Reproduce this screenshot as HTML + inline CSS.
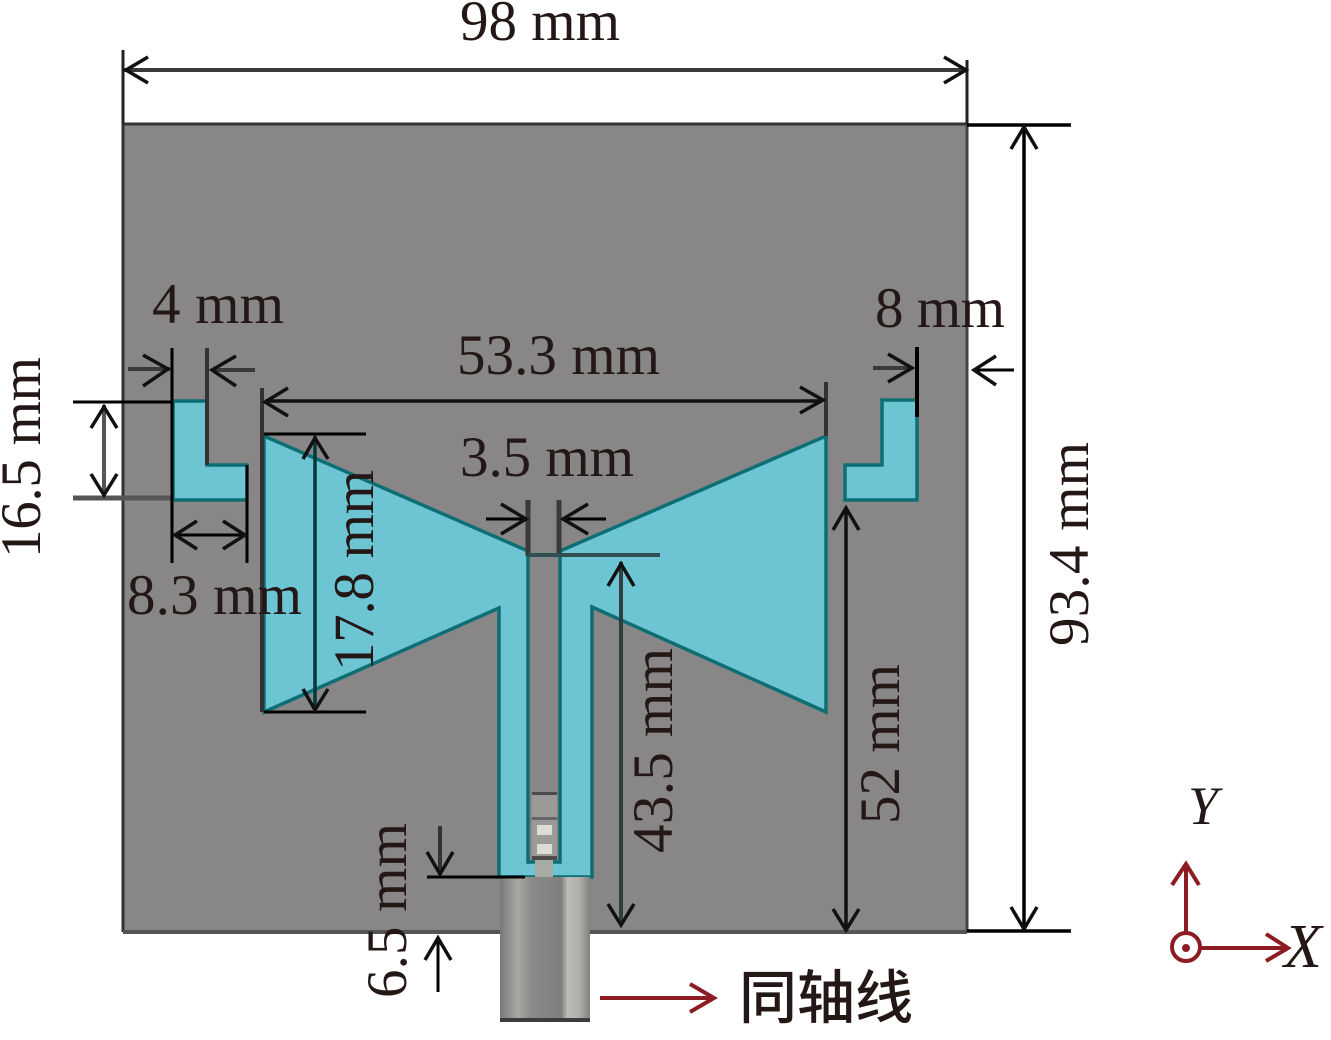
<!DOCTYPE html>
<html>
<head>
<meta charset="utf-8">
<style>
html,body{margin:0;padding:0;background:#fff;width:1331px;height:1040px;overflow:hidden}
svg{display:block}
text{font-family:"Liberation Serif",serif;font-size:57px;fill:#231815}
.ln{fill:none;stroke:#000;stroke-width:3}
.gr{fill:none;stroke:#3a3a3a;stroke-width:4}
.ch{fill:none;stroke:#111;stroke-width:3.5}
.rd{fill:none;stroke:#8c1c22;stroke-width:4}
</style>
</head>
<body>
<svg width="1331" height="1040" viewBox="0 0 1331 1040" xmlns="http://www.w3.org/2000/svg">
<defs>
<linearGradient id="coax" x1="0" x2="1" y1="0" y2="0">
<stop offset="0" stop-color="#787878"/>
<stop offset=".2" stop-color="#a8a8a2"/>
<stop offset=".35" stop-color="#8a8a88"/>
<stop offset=".68" stop-color="#7e7e7e"/>
<stop offset=".75" stop-color="#bcbcb6"/>
<stop offset=".88" stop-color="#b0b0aa"/>
<stop offset="1" stop-color="#808080"/>
</linearGradient>
</defs>

<!-- ground plane -->
<rect x="123" y="124" width="844" height="808" fill="#888686"/>
<path d="M123 124H967M123 124V932" fill="none" stroke="#333" stroke-width="3"/>
<path d="M123 932H500M590 932H967" fill="none" stroke="#555" stroke-width="4"/>
<path d="M967 124V932" fill="none" stroke="#444" stroke-width="3"/>

<!-- radiator -->
<path d="M264 436L528 551V862H560V551L826 436V712L592 607V877H499V608L264 712Z" fill="#6dc5d4" stroke="#0d6f74" stroke-width="3.5"/>
<path d="M173 401H207V465H247V500H173Z" fill="#6dc5d4" stroke="#0d6f74" stroke-width="3.5"/>
<path d="M882 400H917V500H845V465H882Z" fill="#6dc5d4" stroke="#0d6f74" stroke-width="3.5"/>

<!-- coax -->
<rect x="500" y="877" width="90" height="143" fill="url(#coax)"/>
<path d="M500 1020H590" stroke="#3c3c3a" stroke-width="4" fill="none"/>
<rect x="532" y="792" width="25" height="68" fill="#9b9a97"/>
<rect x="532" y="792" width="25" height="3" fill="#4c4c4c"/>
<rect x="532" y="856" width="25" height="4" fill="#4c4c4c"/>
<rect x="532" y="817" width="25" height="3" fill="#666"/>
<rect x="537" y="825" width="15" height="10" fill="#dcdcd4"/>
<rect x="537" y="844" width="15" height="10" fill="#dcdcd4"/>
<rect x="535" y="860" width="18" height="17" fill="#a8aaa6"/>

<!-- 98 mm -->
<path class="gr" d="M124 70H966"/>
<path d="M123 50V124M967 60V124" fill="none" stroke="#222" stroke-width="3"/>
<path class="ch" d="M148 57L126 70L148 83M944 57L966 70L944 83"/>

<!-- 93.4 mm -->
<path class="ln" d="M967 125H1071M967 931H1071M1024 127V929" style="stroke-width:3.5"/>
<path class="ch" d="M1011 149L1024 127L1037 149M1011 907L1024 929L1037 907"/>

<!-- 16.5 mm -->
<path class="ln" d="M73 402H173"/>
<path d="M73 498H173" fill="none" stroke="#555" stroke-width="5"/>
<path d="M104 405V495" fill="none" stroke="#555" stroke-width="4"/>
<path class="ch" d="M91 428L104 407L117 428M91 474L104 495L117 474"/>

<!-- 4 mm / 8.3 mm -->
<path class="ln" d="M172 348V563M247 465V563"/>
<path d="M207 348V465" fill="none" stroke="#333" stroke-width="4"/>
<path class="gr" d="M128 369H170M212 370H255"/>
<path class="ch" d="M143 355L168 369L143 386M236 356L212 370L236 386"/>
<path class="ln" d="M175 535H245"/>
<path class="ch" d="M197 521L175 535L197 549M223 521L245 535L223 549"/>

<!-- 53.3 mm -->
<path d="M262 388V712" fill="none" stroke="#333" stroke-width="4"/>
<path d="M826 382V436" fill="none" stroke="#333" stroke-width="4"/>
<path d="M265 401H822" fill="none" stroke="#111" stroke-width="3.5"/>
<path class="ch" d="M288 388L265 402L288 416M800 387L823 400L800 413"/>

<!-- 17.8 mm -->
<path class="ln" d="M264 434H366M264 712H366"/>
<path d="M315 436V710" fill="none" stroke="#03393b" stroke-width="3.5"/>
<path class="ch" d="M303 459L315 438L328 459M303 689L315 710L328 689"/>

<!-- 3.5 mm -->
<path class="gr" d="M528 500V556M559 500V556" style="stroke-width:5"/>
<path d="M528 555H660" fill="none" stroke="#2f4f50" stroke-width="4"/>
<path class="ln" d="M486 519H526M563 519H606"/>
<path class="ch" d="M501 504L526 519L501 534M588 504L563 519L588 534"/>

<!-- 43.5 mm -->
<path d="M621 562V925" fill="none" stroke="#2f3f40" stroke-width="4"/>
<path class="ch" d="M608 586L621 564L634 586M608 904L621 925L634 904"/>

<!-- 52 mm -->
<path d="M846 508V930" fill="none" stroke="#111" stroke-width="3.5"/>
<path class="ch" d="M833 530L846 508L859 530M833 909L846 930L859 909"/>

<!-- 8 mm -->
<path class="ln" d="M917 347V417" style="stroke-width:4"/>
<path class="gr" d="M873 368H912"/>
<path class="ln" d="M974 370H1014"/>
<path class="ch" d="M888 354L912 368L888 382M996 356L974 370L996 385"/>

<!-- 6.5 mm -->
<path class="ln" d="M427 877H525"/>
<path d="M440 826V872" fill="none" stroke="#333" stroke-width="4"/>
<path class="ch" d="M427 852L440 874L453 852"/>
<path class="ln" d="M438 940V992"/>
<path class="ch" d="M425 960L438 938L451 960"/>

<!-- red arrow and axes -->
<path class="rd" d="M600 998H712"/>
<path class="rd" d="M690 984L714 998L690 1012"/>
<circle cx="1186" cy="947" r="14" class="rd"/>
<circle cx="1186" cy="948" r="4" fill="#8c1c22"/>
<path class="rd" d="M1186 933V866M1200 948H1286"/>
<path class="rd" d="M1172 885L1186 864L1199 885M1266 934L1288 948L1266 961"/>

<!-- labels -->
<text x="460" y="40" textLength="160">98 mm</text>
<text x="152" y="323" textLength="132">4 mm</text>
<text x="875" y="327" textLength="130">8 mm</text>
<text x="457" y="374" textLength="203">53.3 mm</text>
<text x="460" y="476" textLength="174">3.5 mm</text>
<text x="127" y="614" textLength="175">8.3 mm</text>
<text transform="translate(40 558) rotate(-90)" textLength="201">16.5 mm</text>
<text transform="translate(373 671) rotate(-90)" textLength="201">17.8 mm</text>
<text transform="translate(672 853) rotate(-90)" textLength="205">43.5 mm</text>
<text transform="translate(899 824) rotate(-90)" textLength="160">52 mm</text>
<text transform="translate(1088 646) rotate(-90)" textLength="204">93.4 mm</text>
<text transform="translate(406 998) rotate(-90)" textLength="175">6.5 mm</text>
<text x="1188" y="824" font-style="italic" style="font-size:54px">Y</text>
<text x="1284" y="967" font-style="italic" style="font-size:62px">X</text>
<text x="739" y="1018" style="font-family:'Liberation Sans','Noto Sans CJK SC',sans-serif;font-size:58px;font-weight:500">同轴线</text>
</svg>
</body>
</html>
